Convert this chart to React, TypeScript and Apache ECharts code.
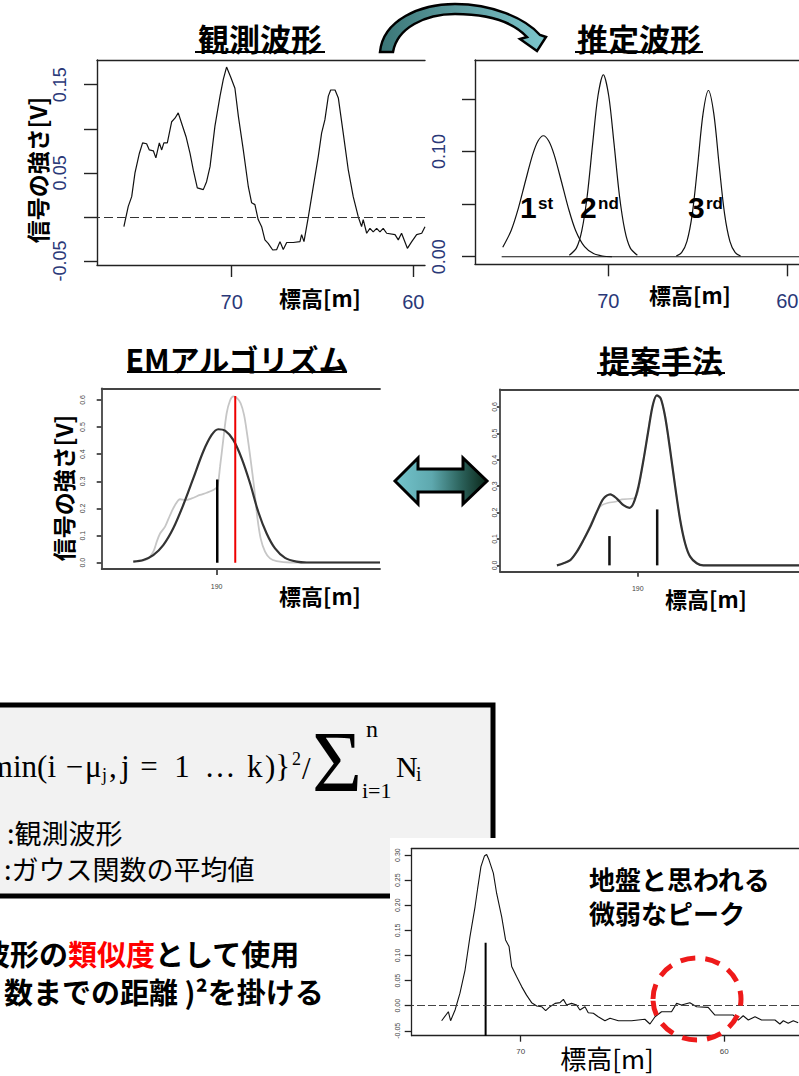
import React, { useEffect, useRef } from "react";
import * as echarts from "echarts";

// ---------- DATA ----------
// 観測波形 (top-left)
const obsElev = [75.93, 75.69, 75.5, 75.32, 75.08, 74.9, 74.68, 74.53, 74.31, 74.17, 73.98, 73.85, 73.73, 73.54, 73.3, 73.12, 72.94, 72.75, 72.51, 72.29, 72.11, 71.89, 71.56, 71.38, 71.19, 70.92, 70.64, 70.46, 70.28, 70.06, 69.82, 69.63, 69.36, 69.08, 68.9, 68.72, 68.54, 68.35, 68.17, 67.99, 67.74, 67.52, 67.34, 67.16, 66.97, 66.61, 66.24, 66.15, 66.02, 65.78, 65.51, 65.23, 65.05, 64.87, 64.68, 64.55, 64.31, 64.13, 63.86, 63.58, 63.31, 63.03, 62.85, 62.76, 62.57, 62.39, 62.21, 62.02, 61.84, 61.66, 61.47, 61.01, 60.83, 60.65, 60.33, 60.09, 59.82, 59.54, 59.36];
const obsSignal = [-0.011, 0.012, 0.023, 0.05, 0.072, 0.084, 0.083, 0.076, 0.075, 0.067, 0.084, 0.076, 0.084, 0.084, 0.108, 0.112, 0.118, 0.106, 0.091, 0.072, 0.053, 0.033, 0.031, 0.04, 0.057, 0.103, 0.137, 0.156, 0.17, 0.159, 0.146, 0.114, 0.076, 0.034, 0.016, 0.014, -0.003, -0.011, -0.026, -0.03, -0.0375, -0.037, -0.028, -0.037, -0.029, -0.029, -0.028, -0.02, -0.028, 0.0, 0.034, 0.069, 0.095, 0.11, 0.137, 0.144, 0.144, 0.135, 0.095, 0.053, 0.023, 0.0, -0.011, -0.003, -0.0185, -0.013, -0.017, -0.013, -0.017, -0.013, -0.0185, -0.02, -0.026, -0.0185, -0.0356, -0.028, -0.02, -0.0185, -0.011];

// 推定波形 (top-right)
const est1Elev = [75.9, 75.43, 75.03, 74.63, 74.23, 73.93, 73.63, 73.33, 73.03, 72.63, 72.23, 71.83, 71.33, 70.83, 70.33, 69.8];
const est1Signal = [0.009, 0.025, 0.046, 0.072, 0.097, 0.11, 0.115, 0.11, 0.097, 0.072, 0.046, 0.025, 0.0095, 0.003, 0.0007, 0];
const est2Elev = [72.18, 71.78, 71.48, 71.18, 70.88, 70.58, 70.28, 69.98, 69.68, 69.38, 69.08, 68.78, 68.38];
const est2Signal = [0.0014, 0.0084, 0.025, 0.058, 0.107, 0.153, 0.173, 0.153, 0.107, 0.058, 0.025, 0.0084, 0.0014];
const est3Elev = [66.21, 65.91, 65.61, 65.31, 65.01, 64.71, 64.41, 64.11, 63.81, 63.51, 63.21, 62.91, 62.61];
const est3Signal = [0.0007, 0.0038, 0.0146, 0.041, 0.087, 0.136, 0.158, 0.136, 0.087, 0.041, 0.0146, 0.0038, 0.0007];
const estBaseElev = [75.96, 59.35];
const estBaseSignal = [0, 0];

// EMアルゴリズム (middle-left)
const emObsElev = [185.83, 186.5, 186.83, 187.0, 187.17, 187.42, 187.67, 187.92, 188.17, 188.42, 188.75, 189.17, 189.5, 189.83, 190.03, 190.17, 190.33, 190.5, 190.67, 190.83, 191.03, 191.2, 191.37, 191.53, 191.7, 191.87, 192.03, 192.2, 192.42, 192.67, 193.0, 193.67, 198.17];
const emObsSignal = [0.004, 0.012, 0.041, 0.077, 0.108, 0.133, 0.176, 0.213, 0.234, 0.231, 0.237, 0.25, 0.258, 0.268, 0.28, 0.354, 0.453, 0.551, 0.598, 0.613, 0.606, 0.588, 0.545, 0.471, 0.379, 0.28, 0.17, 0.09, 0.041, 0.016, 0.006, 0.001, 0.001];
const emFitElev = [185.83, 186.33, 186.83, 187.33, 187.83, 188.33, 188.83, 189.33, 189.75, 190.08, 190.42, 190.83, 191.25, 191.67, 192.08, 192.5, 192.92, 193.42, 194.0, 194.5, 198.17];
const emFitSignal = [0.004, 0.01, 0.028, 0.065, 0.127, 0.213, 0.311, 0.41, 0.471, 0.492, 0.487, 0.453, 0.385, 0.293, 0.188, 0.108, 0.053, 0.018, 0.004, 0.001, 0.001];
const emMeanElev = [190.03];
const emMeanHeight = [0.307];
const emPeakElev = [190.93];
const emPeakHeight = [0.615];

// 提案手法 (middle-right)
const prObsElev = [185.95, 186.62, 186.95, 187.28, 187.62, 187.95, 188.2, 188.53, 188.87, 189.2, 189.78, 189.98, 190.2, 190.45, 190.7, 190.95, 191.15, 191.37, 191.62, 191.87, 192.12, 192.37, 192.62, 192.95, 193.28, 198.07];
const prObsSignal = [0, 0.02, 0.052, 0.098, 0.153, 0.203, 0.228, 0.237, 0.241, 0.25, 0.253, 0.272, 0.361, 0.474, 0.594, 0.642, 0.632, 0.565, 0.439, 0.3, 0.174, 0.083, 0.033, 0.008, 0, 0];
const prFitElev = [185.95, 186.28, 186.62, 186.95, 187.28, 187.62, 187.95, 188.28, 188.62, 188.95, 189.28, 189.58, 189.78, 190.03, 190.28, 190.53, 190.75, 190.95, 191.15, 191.37, 191.62, 191.87, 192.12, 192.37, 192.62, 192.95, 193.28, 198.07];
const prFitSignal = [0, 0.008, 0.02, 0.052, 0.096, 0.146, 0.203, 0.253, 0.269, 0.253, 0.228, 0.218, 0.235, 0.298, 0.398, 0.512, 0.607, 0.644, 0.632, 0.562, 0.436, 0.298, 0.172, 0.083, 0.033, 0.008, 0, 0];
const prMeanElev = [188.58, 190.97];
const prMeanHeight = [0.111, 0.212];

// 地盤ピーク (bottom-right)
const grElev = [73.88, 73.55, 73.44, 73.22, 72.98, 72.73, 72.49, 72.24, 72.11, 71.95, 71.78, 71.67, 71.55, 71.34, 71.18, 70.93, 70.74, 70.57, 70.44, 70.2, 69.95, 69.71, 69.46, 69.21, 68.97, 68.77, 68.56, 68.31, 68.07, 67.9, 67.74, 67.5, 67.25, 67.09, 66.84, 66.68, 66.43, 66.19, 65.86, 65.61, 65.2, 64.55, 63.9, 63.65, 63.4, 63.08, 62.59, 62.34, 62.1, 61.69, 61.36, 60.79, 60.46, 59.56, 59.31, 59.07, 58.82, 58.49, 58.17, 57.51, 57.27, 57.1, 56.86, 56.61, 56.37];
const grSignal = [-0.03, -0.012, -0.03, -0.0086, 0.025, 0.071, 0.137, 0.197, 0.234, 0.277, 0.298, 0.301, 0.29, 0.264, 0.224, 0.177, 0.131, 0.118, 0.078, 0.058, 0.038, 0.021, 0.006, -0.0007, -0.002, -0.01, -0.002, 0.0046, 0.006, 0.0126, 0.0013, 0.0046, 0.0013, -0.0086, -0.002, -0.014, -0.015, -0.022, -0.03, -0.025, -0.03, -0.03, -0.027, -0.0365, -0.022, -0.012, -0.012, 0.0046, 0.0013, 0.006, -0.002, -0.0033, -0.0186, -0.0186, -0.0286, -0.02, -0.0286, -0.022, -0.0286, -0.0286, -0.0365, -0.03, -0.035, -0.03, -0.034];
const grPeakElev = [71.72];
const grPeakHeight = [0.1255];

// tick values
const topLeftYTicks = [-0.05, 0, 0.05, 0.1, 0.15];
const topLeftYLabels = [-0.05, 0.05, 0.15];
const topRightYTicks = [0, 0.05, 0.1, 0.15];
const topRightYLabels = [0, 0.1];
const elevTicks = [70, 60];
const midXTicks = [190];
const midYTicks = [0, 0.1, 0.2, 0.3, 0.4, 0.5, 0.6];
const bottomYTicks = [-0.05, 0, 0.05, 0.1, 0.15, 0.2, 0.25, 0.3];

// ---------- SHAPES ----------
const curvedArrowPath =
  "M 380 52 C 383 20 420 4 455 4 C 492 4 525 18 540 35 L 546 37 L 537 51 L 520 39 L 527 37 C 513 22 488 14 455 14 C 425 14 397 28 393 52 Z";
const doubleArrowPath =
  "M 395 481 L 418 458 L 418 469 L 463 469 L 463 458 L 487 481 L 463 504 L 463 492 L 418 492 L 418 504 Z";
echarts.graphic.registerShape("curvedArrow", echarts.graphic.extendPath(curvedArrowPath, {}));
echarts.graphic.registerShape("doubleArrow", echarts.graphic.extendPath(doubleArrowPath, {}));

const zip = (xs: number[], ys: number[]) => xs.map((x, i) => [x, ys[i]]);

const SANS = "Liberation Sans, Arial, sans-serif";
const JP = "Noto Sans CJK JP, sans-serif";
const SERIF = "Liberation Serif, serif";
const NAVY = "#2a3878";

function bottomX(gi: number, min: number, max: number, inverse: boolean, ticks: number[], o: any) {
  return {
    type: "value", gridIndex: gi, min, max, inverse, position: "bottom",
    axisLine: { show: true, onZero: false, lineStyle: { color: o.color, width: o.width } },
    axisTick: { show: true, customValues: ticks, length: o.tick, lineStyle: { color: o.color, width: o.width } },
    axisLabel: { show: true, customValues: ticks, margin: o.margin, fontSize: o.font, color: o.labelColor, fontFamily: SANS },
    splitLine: { show: false },
  };
}
function topX(gi: number, min: number, max: number, inverse: boolean, color: string, width: number) {
  return {
    type: "value", gridIndex: gi, min, max, inverse, position: "top",
    axisLine: { show: true, onZero: false, lineStyle: { color, width } },
    axisTick: { show: false }, axisLabel: { show: false }, splitLine: { show: false },
  };
}
function leftY(gi: number, min: number, max: number, ticks: number[], labels: number[], digits: number, o: any) {
  return {
    type: "value", gridIndex: gi, min, max, position: "left",
    axisLine: { show: true, onZero: false, lineStyle: { color: o.color, width: o.width } },
    axisTick: { show: true, customValues: ticks, length: o.tick, lineStyle: { color: o.color, width: o.width } },
    axisLabel: {
      show: true, customValues: labels, rotate: 90, margin: o.margin, fontSize: o.font,
      color: o.labelColor, fontFamily: SANS, formatter: (v: number) => Number(v).toFixed(digits),
    },
    splitLine: { show: false },
  };
}

function line(xi: number, yi: number, data: any[], color: string, width: number, smooth: any = false, extra: any = {}) {
  return {
    type: "line", xAxisIndex: xi, yAxisIndex: yi, data, showSymbol: false, symbol: "none",
    smooth, lineStyle: { color, width }, silent: true, ...extra,
  };
}
function stick(xi: number, yi: number, x: number, bottom: number, top: number, color: string, width: number) {
  return line(xi, yi, [[x, bottom], [x, top]], color, width);
}
const zeroDash = (color: string, dash: number[], width: number) => ({
  symbol: ["none", "none"], silent: true, label: { show: false },
  lineStyle: { type: dash, color, width }, data: [{ yAxis: 0 }],
});

function txt(text: string, x: number, y: number, size: number, o: any = {}) {
  return {
    type: "text", x, y, rotation: o.rotation || 0, z: 100,
    style: {
      text, x: 0, y: 0, fontSize: size, fontFamily: o.family || JP, fontWeight: o.weight || "normal",
      fill: o.color || "#000", align: o.align || "left", textAlign: o.align || "left",
      verticalAlign: "middle", textVerticalAlign: "middle", lineHeight: o.lineHeight || size,
    },
  };
}
const uline = (x1: number, x2: number, y: number) => ({
  type: "line", z: 100, shape: { x1, y1: y, x2, y2: y }, style: { stroke: "#000", lineWidth: 2 },
});

function buildOption() {
  const tl = { color: "#222", width: 1.4, tick: 13, margin: 28, font: 18, labelColor: NAVY };
  const tlx = { ...tl, tick: 12, margin: 27, font: 20 };
  const em = { color: "#444", width: 1.8, tick: 5, margin: 16, font: 7, labelColor: "#444" };
  const emx = { ...em, tick: 6, margin: 14 };
  const pr = { color: "#444", width: 1.8, tick: 3, margin: 2, font: 7, labelColor: "#444" };
  const prx = { ...pr, tick: 5, margin: 13 };
  const br = { color: "#222", width: 1.3, tick: 7, margin: 11, font: 7, labelColor: "#444" };
  const brx = { ...br, tick: 6, margin: 12, font: 8 };

  const TL = [59.36, 77.41];
  const TR = [59.35, 77.45];
  const EM = [184.25, 198.17];
  const PR = [183.1, 198.07];
  const BR = [56.33, 75.35];
  const brYMin = -0.0598;

  const series: any[] = [
    line(0, 0, zip(obsElev, obsSignal), "#111", 1.2, false, { markLine: zeroDash("#333", [9, 4], 1.2) }),
    line(2, 1, zip(estBaseElev, estBaseSignal), "#111", 1.2),
    line(2, 1, zip(est1Elev, est1Signal), "#111", 1.2, 0.3),
    line(2, 1, zip(est2Elev, est2Signal), "#111", 1.2, 0.3),
    line(2, 1, zip(est3Elev, est3Signal), "#111", 1.2, 0.3),
    line(4, 2, zip(emObsElev, emObsSignal), "#c6c6c6", 1.8, 0.3),
    line(4, 2, zip(emFitElev, emFitSignal), "#333", 2.2, 0.3),
    stick(4, 2, emMeanElev[0], 0, emMeanHeight[0], "#000", 2.5),
    stick(4, 2, emPeakElev[0], 0, emPeakHeight[0], "#ee0000", 2),
    line(6, 3, zip(prObsElev, prObsSignal), "#c6c6c6", 1.6, 0.3),
    line(6, 3, zip(prFitElev, prFitSignal), "#333", 2.2, 0.3),
    ...prMeanElev.map((x, i) => stick(6, 3, x, 0, prMeanHeight[i], "#111", 2.5)),
    line(8, 4, zip(grElev, grSignal), "#111", 1.1, false, { markLine: zeroDash("#444", [8, 3], 1.2) }),
    stick(8, 4, grPeakElev[0], brYMin, grPeakHeight[0], "#000", 2),
  ];

  const graphic: any[] = [
    // formula box and the white card of the bottom-right plot
    { type: "rect", z: -10, shape: { x: -10, y: 705, width: 503, height: 191 }, style: { fill: "#f2f2f2", stroke: "#000", lineWidth: 5 } },
    { type: "rect", z: -9, shape: { x: 390, y: 838, width: 420, height: 240 }, style: { fill: "#fff" } },
    // arrows
    {
      type: "curvedArrow", x: 0, y: 0, z: 90,
      style: {
        fill: new echarts.graphic.LinearGradient(0, 0, 1, 0, [
          { offset: 0, color: "#3a7576" }, { offset: 0.5, color: "#5f9ea2" }, { offset: 1, color: "#7cc6cc" },
        ]),
        stroke: "#000", lineWidth: 2.5,
      },
    },
    {
      type: "doubleArrow", x: 0, y: 0, z: 90,
      style: {
        fill: new echarts.graphic.LinearGradient(0, 0, 1, 0, [
          { offset: 0, color: "#74c4cc" }, { offset: 0.4, color: "#5ea8ae" }, { offset: 0.7, color: "#2e6660" }, { offset: 1, color: "#0a2618" },
        ]),
        stroke: "#000", lineWidth: 3,
      },
    },
    // titles
    txt("観測波形", 260, 37, 31, { weight: "bold", align: "center" }), uline(195, 325, 52),
    txt("推定波形", 639, 37, 31, { weight: "bold", align: "center" }), uline(575, 703, 52),
    txt("EMアルゴリズム", 237, 358, 30, { weight: "bold", align: "center" }), uline(127, 347, 372),
    txt("提案手法", 661, 359, 31, { weight: "bold", align: "center" }), uline(597, 725, 373),
    // axis names
    txt("信号の強さ[V]", 37, 170, 23, { weight: "bold", align: "center", rotation: Math.PI / 2 }),
    txt("信号の強さ[V]", 63, 488, 23, { weight: "bold", align: "center", rotation: Math.PI / 2 }),
    txt("標高[m]", 320, 297, 22, { weight: "bold", align: "center" }),
    txt("標高[m]", 690, 294, 22, { weight: "bold", align: "center" }),
    txt("標高[m]", 320, 595, 22, { weight: "bold", align: "center" }),
    txt("標高[m]", 706, 598, 22, { weight: "bold", align: "center" }),
    txt("標高[m]", 607, 1057, 26, { align: "center", lineHeight: 26 }),
    // component labels
    txt("1", 520, 207.5, 30, { weight: "bold", family: SANS }), txt("st", 538, 203, 17, { weight: "bold", family: SANS }),
    txt("2", 580, 207.5, 30, { weight: "bold", family: SANS }), txt("nd", 598, 203, 17, { weight: "bold", family: SANS }),
    txt("3", 688, 207.5, 30, { weight: "bold", family: SANS }), txt("rd", 706, 203, 17, { weight: "bold", family: SANS }),
    // formula
    txt("min(i", 56, 766, 31, { family: SERIF, align: "right" }),
    txt("−", 74.5, 766, 31, { family: SERIF, align: "center" }),
    txt("μ", 85, 766, 31, { family: SERIF }),
    txt("j", 102, 775, 18, { family: SERIF }),
    txt(",", 109, 766, 31, { family: SERIF }),
    txt("j", 121, 766, 31, { family: SERIF }),
    txt("=", 149, 766, 31, { family: SERIF, align: "center" }),
    txt("1", 182, 766, 31, { family: SERIF, align: "center" }),
    txt("…", 220, 766, 31, { family: SERIF, align: "center" }),
    txt("k", 247, 766, 31, { family: SERIF }),
    txt(")}", 265, 766, 31, { family: SERIF }),
    txt("2", 292, 759, 18, { family: SERIF }),
    txt("/", 302, 768, 31, { family: SERIF }),
    txt("Σ", 312, 762, 86, { family: SERIF }),
    txt("n", 366, 729, 24, { family: SERIF }),
    txt("i=1", 362, 790, 22, { family: SERIF }),
    txt("N", 396, 766, 30, { family: SERIF }),
    txt("i", 416, 774, 20, { family: SERIF }),
    txt(":観測波形", 7, 832, 27, { lineHeight: 28 }),
    txt(":ガウス関数の平均値", 4, 868, 27, { lineHeight: 28 }),
    // bottom-left statement
    {
      type: "text", x: -19, y: 953, z: 100,
      style: {
        text: "{k|波形の}{r|類似度}{k|として使用}", x: 0, y: 0, verticalAlign: "middle", textVerticalAlign: "middle",
        rich: {
          k: { fontSize: 29, fontWeight: "bold", fontFamily: JP, fill: "#000", color: "#000" },
          r: { fontSize: 29, fontWeight: "bold", fontFamily: JP, fill: "#ff0000", color: "#ff0000" },
        },
      },
    },
    txt("数までの距離 )²を掛ける", 4, 991, 29, { weight: "bold" }),
    // bottom-right annotation
    txt("地盤と思われる", 589, 878, 26, { weight: "bold" }),
    txt("微弱なピーク", 589, 912, 26, { weight: "bold" }),
    {
      type: "ellipse", z: 100, shape: { cx: 697, cy: 999, rx: 44, ry: 41 },
      style: { fill: "none", stroke: "#ee1a1a", lineWidth: 5, lineDash: [15, 10] },
    },
  ];

  const g = (left: number, top: number, width: number, height: number) => ({
    left, top, width, height, containLabel: false, outerBoundsMode: "none",
  });

  return {
    animation: false,
    backgroundColor: "#fff",
    grid: [
      g(97, 60, 328, 205),
      g(475, 60, 324, 204.3),
      g(101.7, 388.3, 278.3, 180.7),
      g(500, 389.3, 299, 182.4),
      g(411.7, 848.3, 387.3, 187.4),
    ],
    xAxis: [
      bottomX(0, TL[0], TL[1], true, elevTicks, tlx), topX(0, TL[0], TL[1], true, "#222", 1.4),
      bottomX(1, TR[0], TR[1], true, elevTicks, tlx), topX(1, TR[0], TR[1], true, "#222", 1.4),
      bottomX(2, EM[0], EM[1], false, midXTicks, emx), topX(2, EM[0], EM[1], false, "#444", 1.8),
      bottomX(3, PR[0], PR[1], false, midXTicks, prx), topX(3, PR[0], PR[1], false, "#444", 1.8),
      bottomX(4, BR[0], BR[1], true, elevTicks, brx), topX(4, BR[0], BR[1], true, "#222", 1.3),
    ],
    yAxis: [
      leftY(0, -0.0545, 0.178, topLeftYTicks, topLeftYLabels, 2, tl),
      leftY(1, -0.0072, 0.187, topRightYTicks, topRightYLabels, 2, { ...tl, margin: 27 }),
      leftY(2, -0.023, 0.643, midYTicks, midYTicks, 1, em),
      leftY(3, -0.024, 0.667, midYTicks, midYTicks, 1, pr),
      leftY(4, brYMin, 0.3135, bottomYTicks, bottomYTicks, 2, br),
    ],
    series,
    graphic,
  };
}

export default function App() {
  const ref = useRef<HTMLDivElement>(null);
  useEffect(() => {
    const chart = echarts.init(ref.current as HTMLDivElement, undefined, { renderer: "svg" });
    chart.setOption(buildOption() as any);
    return () => chart.dispose();
  }, []);
  return (
    <div
      ref={ref}
      style={{ position: "fixed", left: 0, top: 0, width: 799, height: 1076, background: "#fff", overflow: "hidden" }}
    />
  );
}
